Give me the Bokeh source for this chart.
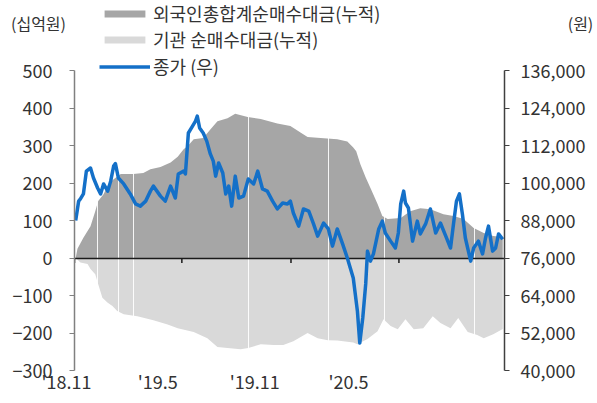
import pandas as pd
from bokeh.plotting import figure
from bokeh.models import (Range1d, LinearAxis, FixedTicker, NumeralTickFormatter,
                          Legend, LegendItem, Label)
from bokeh.embed import file_html
from bokeh.resources import INLINE

# ---------------- data ----------------
START = "2018-11-01"
END = "2020-10-26"

# cumulative foreign net buying (KRW bn), day offsets from START
foreign_day = [2, 5, 15, 27, 35, 40, 49, 57, 66, 78, 99, 116, 128, 145, 162, 174, 184, 191, 201, 217,
               229, 241, 258, 271, 292, 314, 342, 364, 381, 393, 415, 443, 460, 470, 475, 482, 491, 499, 511, 519,
               528, 550, 566, 583, 600, 622, 639, 656, 673, 690, 706, 722]
foreign_val = [0, 25, 54, 85, 125, 152, 170, 197, 210, 224, 224, 227, 237, 243, 255, 270, 290, 299, 317, 320,
               343, 365, 373, 385, 376, 371, 359, 352, 335, 323, 320, 317, 311, 295, 285, 250, 215, 187, 144, 112,
               104, 107, 125, 133, 130, 117, 112, 104, 80, 67, 59, 56]

# cumulative institutional net buying (KRW bn)
inst_day = [2, 10, 22, 27, 35, 40, 47, 56, 64, 72, 83, 106, 133, 157, 174, 201, 224, 241, 258, 280,
            293, 314, 336, 352, 369, 393, 410, 427, 443, 470, 477, 494, 511, 521, 533, 545, 558, 572, 588, 604,
            617, 634, 647, 663, 679, 690, 706, 722]
inst_val = [0, -12, -16, -29, -43, -70, -106, -119, -128, -141, -150, -155, -166, -177, -187, -197, -214, -237, -240, -243,
            -240, -230, -232, -232, -222, -200, -214, -219, -220, -225, -230, -216, -195, -163, -181, -190, -163, -190, -187, -155,
            -173, -187, -160, -197, -205, -214, -203, -189]

# closing price (KRW, right axis)
price_day = [2, 7, 10, 15, 20, 27, 32, 39, 44, 49, 56, 61, 66, 69, 74, 83, 94, 103, 111, 120,
             128, 133, 145, 153, 162, 170, 175, 184, 187, 192, 199, 204, 207, 211, 217, 223, 229, 234, 238, 243,
             250, 255, 260, 265, 271, 277, 285, 293, 302, 309, 317, 325, 334, 342, 351, 359, 364, 369, 378, 386,
             395, 403, 410, 420, 428, 435, 443, 452, 460, 465, 470, 477, 481, 486, 491, 494, 499, 504, 513, 519,
             524, 533, 541, 546, 550, 555, 558, 563, 570, 578, 583, 592, 600, 609, 617, 626, 634, 639, 644, 649,
             654, 659, 668, 673, 681, 688, 693, 698, 705, 710, 715, 722]
price_val = [88000, 94200, 94900, 96500, 103800, 104800, 101600, 98400, 96500, 99700, 97400, 100600, 105400, 106200, 101600, 99700, 96500, 93300, 92600, 94200,
             97400, 99000, 95800, 94200, 99000, 95200, 102900, 103800, 102900, 116000, 118200, 119800, 121400, 117600, 116000, 113400, 109300, 107000, 102200, 106400,
             103200, 96500, 99000, 92600, 102200, 95200, 95800, 101300, 99700, 103800, 98100, 97400, 94200, 91700, 93600, 93300, 94200, 90400, 86200, 91700,
             91000, 86900, 83000, 87200, 85300, 79800, 85300, 80500, 76000, 72800, 69600, 59000, 48800, 56800, 67700, 78200, 75000, 77300, 85300, 87800,
             84000, 81400, 79200, 84000, 93300, 97400, 93600, 92000, 81400, 87800, 83700, 86900, 91700, 84000, 87200, 83000, 79200, 86900, 94200, 96500,
             90100, 82400, 75000, 79200, 81400, 77300, 82400, 86200, 78200, 79200, 83700, 82000]

gap_dates = ["2018-12-10", "2019-01-14", "2019-02-08", "2019-08-21", "2020-01-03", "2020-04-07", "2020-09-05"]

tick_dates = ["2018-11-01", "2019-05-01", "2019-11-01", "2020-05-01"]
tick_labels = ["'18.11", "'19.5", "'19.11", "'20.5"]

left_ticks = [-300, -200, -100, 0, 100, 200, 300, 400, 500]
right_ticks = [40000, 52000, 64000, 76000, 88000, 100000, 112000, 124000, 136000]

series_names = ["외국인총합계순매수대금(누적)", "기관 순매수대금(누적)", "종가 (우)"]
unit_left = "(십억원)"
unit_right = "(원)"

# ---------------- styling / layout ----------------
FONT = "Noto Sans CJK KR"
TXT = "#333333"
DARK = "#A6A6A6"
LIGHT = "#D9D9D9"
BLUE = "#1470C8"

W = 596
HEAD_H = 52
MAIN_H = 350
FRAME_L, FRAME_R = 74, 504          # frame edges in page px
PLOT_TOP_PAD = 18                    # px of frame above the top tick
PLOT_H = 300                         # px between top and bottom ticks
label_pad = [4, 12, 18, 25]          # trailing nbsp to shift tick labels left

start_ts = pd.Timestamp(START)


def to_dates(days):
    return start_ts + pd.to_timedelta(days, unit="D")


def ms(d):
    return pd.Timestamp(d).timestamp() * 1000.0


lo, hi = left_ticks[0], left_ticks[-1]
rlo, rhi = right_ticks[0], right_ticks[-1]
y_top = hi + (hi - lo) * PLOT_TOP_PAD / PLOT_H
r_top = rhi + (rhi - rlo) * PLOT_TOP_PAD / PLOT_H
tick_len = 5 * (hi - lo) / PLOT_H

# ---------------- header (legend rows 1-2 and units) ----------------
h = figure(width=W, height=HEAD_H, x_range=Range1d(0, W), y_range=Range1d(0, HEAD_H),
           x_axis_location=None, y_axis_location=None, output_backend="svg",
           toolbar_location=None, min_border=0, min_border_left=0, min_border_right=0,
           min_border_top=0, min_border_bottom=0)
h.xgrid.visible = False
h.ygrid.visible = False
h.outline_line_color = None
rh_for = h.varea(x=[0, 1], y1=[0, 0], y2=[0, 0], fill_color=DARK)
rh_inst = h.varea(x=[0, 1], y1=[0, 0], y2=[0, 0], fill_color=LIGHT)
h.add_layout(Label(x=38, y=HEAD_H - 22, text=unit_left, text_align="center", text_baseline="middle",
                   text_font=FONT, text_font_size="16px", text_color=TXT))
h.add_layout(Label(x=580, y=HEAD_H - 22, text=unit_right, text_align="center", text_baseline="middle",
                   text_font=FONT, text_font_size="16px", text_color=TXT))
leg_kw = dict(glyph_width=51, glyph_height=9, label_standoff=3, spacing=0, padding=0, margin=0,
              border_line_color=None, background_fill_alpha=0, label_text_font=FONT,
              label_text_font_size="18px", label_text_color=TXT, label_height=26)
h.add_layout(Legend(items=[LegendItem(label=series_names[0], renderers=[rh_for]),
                           LegendItem(label=series_names[1], renderers=[rh_inst])],
                    location=(99, 0), **leg_kw))

# ---------------- main chart ----------------
p = figure(width=W, height=MAIN_H, x_axis_type="datetime",
           x_range=Range1d(ms(START), ms(END)), y_range=Range1d(lo, y_top),
           output_backend="svg", toolbar_location=None,
           min_border_left=FRAME_L, min_border_right=W - FRAME_R,
           min_border_top=0, min_border_bottom=MAIN_H - (PLOT_H + PLOT_TOP_PAD))
p.extra_y_ranges = {"price": Range1d(rlo, r_top)}
p.xgrid.visible = False
p.ygrid.visible = False
p.outline_line_color = None

r_inst = p.varea(x=to_dates(inst_day), y1=0, y2=inst_val, fill_color=LIGHT)
r_for = p.varea(x=to_dates(foreign_day), y1=0, y2=foreign_val, fill_color=DARK)
p.vspan(x=[ms(d) for d in gap_dates], line_color="white", line_width=1, line_alpha=0.9)
p.hspan(y=[0], line_color="#1a1a1a", line_width=1.5)
tms = [ms(d) for d in tick_dates]
p.segment(x0=tms, x1=tms, y0=[0] * len(tms), y1=[-tick_len] * len(tms),
          line_color="#1a1a1a", line_width=1.5)
r_line = p.line(x=to_dates(price_day), y=price_val, y_range_name="price",
                line_color=BLUE, line_width=3.5, line_join="round")

# bottom axis: labels only
xa = p.xaxis[0]
xa.ticker = FixedTicker(ticks=tms)
xa.major_label_overrides = {t: lab + "\u00a0" * n for t, lab, n in zip(tms, tick_labels, label_pad)}
xa.axis_line_color = None
xa.major_tick_in = 0
xa.major_tick_out = 0
xa.minor_tick_in = 0
xa.minor_tick_out = 0
xa.major_label_standoff = -3
xa.major_label_text_font = FONT
xa.major_label_text_font_size = "18px"
xa.major_label_text_color = TXT

# left axis
ya = p.yaxis[0]
ya.ticker = FixedTicker(ticks=left_ticks)
ya.bounds = (lo, hi)
ya.axis_line_color = "#808080"
ya.axis_line_width = 1.5
ya.major_tick_line_color = "#808080"
ya.major_tick_in = 0
ya.major_tick_out = 5
ya.minor_tick_in = 0
ya.minor_tick_out = 0
ya.major_label_standoff = 17
ya.major_label_text_font = FONT
ya.major_label_text_font_size = "18px"
ya.major_label_text_color = TXT

# right axis
ra = LinearAxis(y_range_name="price", ticker=FixedTicker(ticks=right_ticks),
                formatter=NumeralTickFormatter(format="0,0"), bounds=(rlo, rhi))
ra.axis_line_color = "#404040"
ra.axis_line_width = 1.5
ra.major_tick_line_color = "#404040"
ra.major_tick_in = 0
ra.major_tick_out = 5
ra.minor_tick_in = 0
ra.minor_tick_out = 0
ra.major_label_standoff = 11
ra.major_label_text_font = FONT
ra.major_label_text_font_size = "18px"
ra.major_label_text_color = TXT
p.add_layout(ra, "right")

# legend row 3 (price line) inside top of the frame
frame_h = PLOT_H + PLOT_TOP_PAD
p.add_layout(Legend(items=[LegendItem(label=series_names[2], renderers=[r_line])],
                    location=(99 - FRAME_L, frame_h - 27), **leg_kw))

open("out.html", "w").write(file_html([h, p], INLINE))
